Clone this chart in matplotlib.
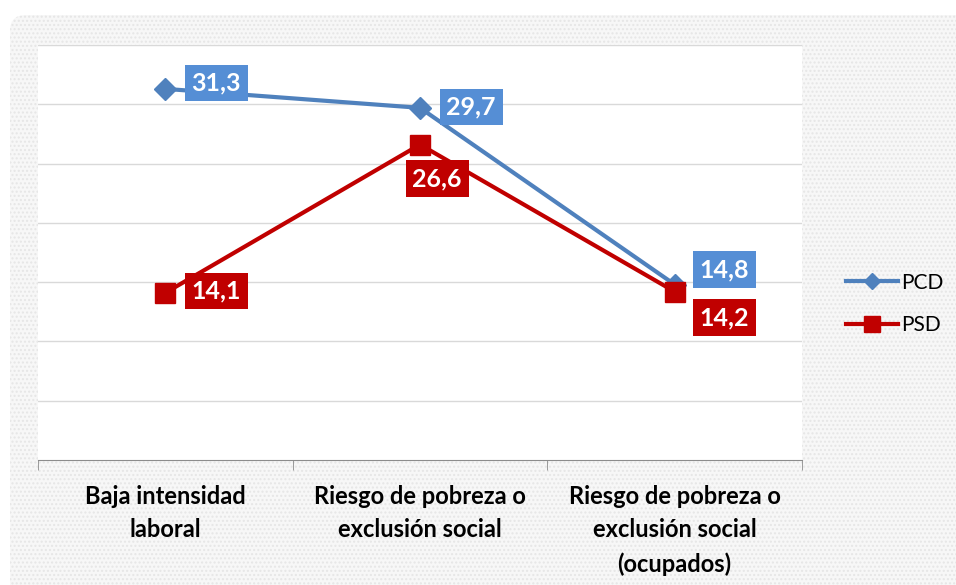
import matplotlib.pyplot as plt
from matplotlib.patches import FancyBboxPatch
from matplotlib.transforms import IdentityTransform

plt.rcParams['font.family'] = ['Lato', 'DejaVu Sans']

categorias = ['Baja intensidad\nlaboral', 'Riesgo de pobreza o\nexclusión social',
              'Riesgo de pobreza o\nexclusión social\n(ocupados)']
pcd = [31.3, 29.7, 14.8]
psd = [14.1, 26.6, 14.2]
etiq_pcd = ['31,3', '29,7', '14,8']
etiq_psd = ['14,1', '26,6', '14,2']

azul = '#4F81BD'
azul_caja = '#558ED5'
rojo = '#C00000'

fig = plt.figure(figsize=(9.56, 5.85), dpi=100)

# marco punteado de fondo con esquina redondeada
marco = FancyBboxPatch((10, -30), 1000, 600, boxstyle='round,pad=0,rounding_size=16',
                       transform=IdentityTransform(), facecolor='#f7f7f7',
                       edgecolor='#e6e6e6', hatch='....', linewidth=0, zorder=0)
fig.patches.append(marco)

W, H = 956, 585
ax = fig.add_axes([38 / W, (H - 460) / H, (802 - 38) / W, (460 - 45) / H])
ax.set_zorder(2)
ax.set_facecolor('white')

x = [0.5, 1.5, 2.5]
ax.plot(x, pcd, color=azul, lw=3, marker='D', ms=11, label='PCD', zorder=3)
ax.plot(x, psd, color=rojo, lw=3, marker='s', ms=15, label='PSD', zorder=4)

ax.set_xlim(0, 3)
ax.set_ylim(0, 35)
ax.set_yticks(range(5, 40, 5))
ax.tick_params(axis='y', length=0, labelleft=False)
ax.grid(axis='y', color='#d9d9d9', lw=1)
ax.set_axisbelow(True)
for s in ['top', 'right', 'left']:
    ax.spines[s].set_visible(False)
ax.spines['bottom'].set_color('#8c8c8c')

ax.set_xticks(x)
ax.set_xticklabels(categorias, fontsize=17, fontweight='bold', linespacing=1.55)
ax.tick_params(axis='x', which='major', length=0, pad=18)
ax.set_xticks([0, 1, 2, 3], minor=True)
ax.tick_params(axis='x', which='minor', length=7, color='#8c8c8c', direction='out')

offs_pcd = [(51, 6), (51, 1), (50, 15)]
offs_psd = [(51, 2), (17, -34), (50, -26)]
for xi, v, t, o in zip(x, pcd, etiq_pcd, offs_pcd):
    ax.annotate(t, (xi, v), xytext=o, textcoords='offset pixels', ha='center', va='center',
                color='white', fontsize=18, fontweight='bold', zorder=6,
                bbox=dict(boxstyle='square,pad=0.27', fc=azul_caja, ec='none'))
for xi, v, t, o in zip(x, psd, etiq_psd, offs_psd):
    ax.annotate(t, (xi, v), xytext=o, textcoords='offset pixels', ha='center', va='center',
                color='white', fontsize=18, fontweight='bold', zorder=6,
                bbox=dict(boxstyle='square,pad=0.27', fc=rojo, ec='none'))

fig.legend(loc='center left', bbox_to_anchor=(827 / W, 1 - 304 / H), frameon=False,
           fontsize=15, handlelength=2.5, handletextpad=0.15, labelspacing=1.1,
           markerscale=0.75)

fig.savefig('out.png', dpi=100)
